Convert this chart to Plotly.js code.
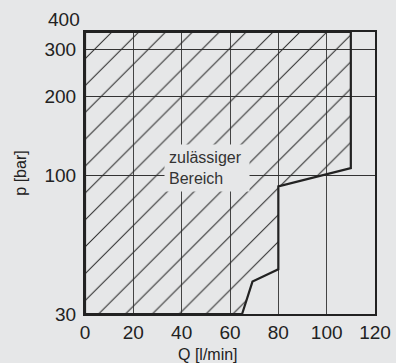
<!DOCTYPE html>
<html>
<head>
<meta charset="utf-8">
<script src="https://cdn.plot.ly/plotly-3.0.1.min.js"></script>
<style>
  html, body { margin: 0; padding: 0; background: #e6e7e8; }
  #chart { width: 396px; height: 363px; }
</style>
</head>
<body>
<div id="chart"></div>
<script>
// Boundary of the permitted region (Q in l/min, p in bar)
var boundaryQ = [0, 0, 110, 110, 80, 80, 69.3, 65, 0];
var boundaryP = [30, 350, 350, 107, 91.2, 44.3, 39.8, 30, 30];

var xTickVals = [0, 20, 40, 60, 80, 100, 120];
var xTickText = ['0', '20', '40', '60', '80', '100', '120'];
var yTickVals = [30, 100, 200, 300];
var yTickText = ['30', '100', '200', '300'];
var yTopLabel = '400';

var regionLabel = 'zulässiger<br>Bereich';
var xTitle = 'Q [l/min]';
var yTitle = 'p [bar]';

var bg = '#e6e7e8';
var ink = '#222222';

var traces = [{
  type: 'scatter',
  mode: 'lines',
  x: boundaryQ,
  y: boundaryP,
  fill: 'toself',
  fillcolor: 'rgba(0,0,0,0)',
  fillpattern: { shape: '/', size: 19, solidity: 0.055, fgcolor: '#2a2a2a', bgcolor: 'rgba(0,0,0,0)', fillmode: 'replace' },
  line: { color: ink, width: 2.2 },
  hoverinfo: 'skip',
  cliponaxis: false,
  showlegend: false
}];

var layout = {
  width: 396,
  height: 363,
  paper_bgcolor: bg,
  plot_bgcolor: bg,
  margin: { l: 85, r: 21, t: 32, b: 49 },
  font: { family: 'Liberation Sans, Arial, sans-serif', color: ink },
  xaxis: {
    range: [0, 120],
    tickmode: 'array',
    tickvals: xTickVals,
    ticktext: xTickText,
    tickfont: { size: 19, color: ink },
    ticks: '',
    showgrid: true,
    gridcolor: '#444444',
    gridwidth: 1,
    zeroline: false,
    showline: true,
    linecolor: ink,
    linewidth: 2,
    mirror: true,
    fixedrange: true
  },
  yaxis: {
    type: 'log',
    range: [Math.log10(30), Math.log10(350)],
    tickmode: 'array',
    tickvals: yTickVals,
    ticktext: yTickText,
    tickfont: { size: 19, color: ink },
    ticks: '',
    ticklabelstandoff: 3,
    showgrid: true,
    gridcolor: '#333333',
    gridwidth: 1.2,
    zeroline: false,
    showline: true,
    linecolor: ink,
    linewidth: 2,
    mirror: true,
    fixedrange: true,
    title: { text: yTitle, font: { size: 16, color: ink }, standoff: 14 }
  },
  annotations: [
    {
      xref: 'paper', yref: 'paper', x: 0.4224, y: 0.518,
      text: regionLabel, showarrow: false, align: 'left',
      font: { size: 16, color: '#333' },
      bgcolor: bg, width: 76, height: 38, borderpad: 4,
      xanchor: 'center', yanchor: 'middle'
    },
    {
      xref: 'paper', yref: 'paper', x: -0.01, y: 1.043,
      text: yTopLabel, showarrow: false,
      font: { size: 19, color: ink },
      xanchor: 'right', yanchor: 'middle'
    },
    {
      xref: 'paper', yref: 'paper', x: 0.424, y: -0.145,
      text: xTitle, showarrow: false,
      font: { size: 16, color: ink },
      xanchor: 'center', yanchor: 'middle'
    }
  ]
};

Plotly.newPlot('chart', traces, layout, { displayModeBar: false, staticPlot: true });
</script>
</body>
</html>
